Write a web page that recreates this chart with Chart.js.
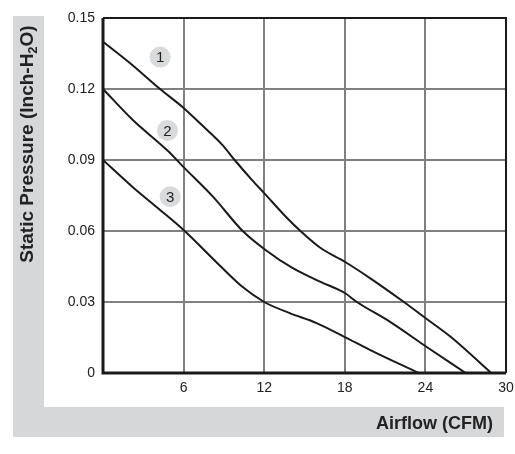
<!DOCTYPE html>
<html lang="en">
<head>
    <meta charset="UTF-8">
    <title>Fan Curve</title>
    <script src="https://cdn.jsdelivr.net/npm/chart.js"></script>
    <style>
        html, body { margin: 0; padding: 0; background: #fff; }
        #wrap { width: 515px; height: 454px; }
    </style>
</head>
<body>
    <div id="wrap"><canvas id="fanChart" width="515" height="454"></canvas></div>

    <script>
        // values (airflow in CFM, static pressure in inch-H2O)
        let airflow1 = [0, 2, 4.25, 6, 7.2, 8.9, 9.8, 11.1, 12, 13.7, 14.7, 16.2, 18, 19.9, 22.4, 24.1, 25.9, 28.9];
        let pressure1 = [0.140, 0.131, 0.120, 0.112, 0.1056, 0.0963, 0.090, 0.0815, 0.076, 0.0655, 0.060, 0.0528, 0.047, 0.040, 0.030, 0.0228, 0.0152, 0];

        let airflow2 = [0, 2.2, 4.8, 6, 8.2, 10.4, 12.1, 14.1, 16.2, 18, 18.9, 21.4, 24.1, 27.0];
        let pressure2 = [0.120, 0.107, 0.094, 0.087, 0.0744, 0.060, 0.052, 0.0444, 0.0385, 0.0338, 0.030, 0.0215, 0.011, 0];

        let airflow3 = [0, 2.2, 4.25, 6, 8.5, 10.4, 12, 13.9, 15.9, 18, 19.9, 23.5];
        let pressure3 = [0.090, 0.0786, 0.0689, 0.0604, 0.0465, 0.0363, 0.030, 0.0253, 0.0211, 0.0152, 0.0097, 0];

        // curve number badges, placed in data units
        let badgeNames = ["1", "2", "3"];
        let badgeAirflow = [4.25, 4.8, 5.0];
        let badgePressure = [0.1335, 0.1025, 0.0745];

        let xTicks = [0, 6, 12, 18, 24, 30];
        let yTicks = [0, 0.03, 0.06, 0.09, 0.12, 0.15];

        const font = "'Liberation Sans', Arial, sans-serif";

        function toPoints(xs, ys) {
            return xs.map((x, i) => ({ x: x, y: ys[i] }));
        }

        function curve(xs, ys) {
            return {
                data: toPoints(xs, ys),
                borderColor: "#1a1a1a",
                borderWidth: 2,
                pointRadius: 0,
                fill: false,
                cubicInterpolationMode: "monotone"
            };
        }

        // grey L-shaped frame and the two axis titles
        const framePlugin = {
            id: "frame",
            beforeDraw(chart) {
                let ctx = chart.ctx;
                ctx.save();
                ctx.fillStyle = "#d6d7d9";
                ctx.fillRect(13, 16, 31, 421);
                ctx.fillRect(13, 407, 491, 30);

                ctx.fillStyle = "#222";
                ctx.font = "bold 18px " + font;
                ctx.textAlign = "right";
                ctx.textBaseline = "middle";
                ctx.fillText("Airflow (CFM)", 493, 424);

                // rotated y title with subscript 2
                ctx.translate(33, 144);
                ctx.rotate(-Math.PI / 2);
                ctx.textBaseline = "alphabetic";
                ctx.textAlign = "left";
                let big = "bold 19px " + font;
                let small = "bold 13px " + font;
                let p1 = "Static Pressure (Inch-H", p2 = "2", p3 = "O)";
                ctx.font = big;
                let w1 = ctx.measureText(p1).width, w3 = ctx.measureText(p3).width;
                ctx.font = small;
                let w2 = ctx.measureText(p2).width;
                let x0 = -(w1 + w2 + w3) / 2;
                ctx.font = big;
                ctx.fillText(p1, x0, 0);
                ctx.font = small;
                ctx.fillText(p2, x0 + w1, 4);
                ctx.font = big;
                ctx.fillText(p3, x0 + w1 + w2, 0);
                ctx.restore();
            },
            afterDatasetsDraw(chart) {
                let ctx = chart.ctx;
                let a = chart.chartArea;
                ctx.save();
                ctx.strokeStyle = "#1a1a1a";
                ctx.lineWidth = 2;
                ctx.beginPath();
                ctx.moveTo(a.left, a.top);
                ctx.lineTo(a.right, a.top);
                ctx.lineTo(a.right, a.bottom);
                ctx.stroke();
                ctx.lineWidth = 3;
                ctx.beginPath();
                ctx.moveTo(a.left, a.top);
                ctx.lineTo(a.left, a.bottom);
                ctx.lineTo(a.right, a.bottom);
                ctx.stroke();

                // numbered badges
                let xs = chart.scales.x, ys = chart.scales.y;
                ctx.font = "15px " + font;
                ctx.textAlign = "center";
                ctx.textBaseline = "middle";
                badgeNames.forEach((name, i) => {
                    let cx = xs.getPixelForValue(badgeAirflow[i]);
                    let cy = ys.getPixelForValue(badgePressure[i]);
                    ctx.fillStyle = "#d9dadc";
                    ctx.beginPath();
                    ctx.arc(cx, cy, 10.5, 0, Math.PI * 2);
                    ctx.fill();
                    ctx.fillStyle = "#222";
                    ctx.fillText(name, cx, cy + 1);
                });
                ctx.restore();
            }
        };

        let ctx = document.getElementById("fanChart").getContext("2d");
        let fanChart = new Chart(ctx, {
            type: "line",
            data: {
                datasets: [
                    curve(airflow1, pressure1),
                    curve(airflow2, pressure2),
                    curve(airflow3, pressure3)
                ]
            },
            options: {
                responsive: false,
                animation: false,
                layout: { padding: { top: 18, right: 0, bottom: 0, left: 0 } },
                plugins: {
                    legend: { display: false },
                    tooltip: { enabled: false }
                },
                scales: {
                    x: {
                        type: "linear",
                        min: 0,
                        max: 30,
                        afterBuildTicks: s => { s.ticks = xTicks.map(v => ({ value: v })); },
                        afterFit: s => { s.height = 81; s.paddingRight = 9; },
                        grid: { color: "#808080", lineWidth: 2, drawTicks: false },
                        border: { display: false },
                        ticks: {
                            padding: 7,
                            color: "#222",
                            font: { family: font, size: 14 },
                            callback: v => v === 0 ? "" : String(v)
                        }
                    },
                    y: {
                        min: 0,
                        max: 0.15,
                        afterBuildTicks: s => { s.ticks = yTicks.map(v => ({ value: v })); },
                        afterFit: s => { s.width = 103; },
                        grid: { color: "#808080", lineWidth: 2, drawTicks: false },
                        border: { display: false },
                        ticks: {
                            padding: 8,
                            color: "#222",
                            font: { family: font, size: 14 },
                            callback: v => v === 0 ? "0" : v.toFixed(2)
                        }
                    }
                }
            },
            plugins: [framePlugin]
        });
    </script>
</body>
</html>
